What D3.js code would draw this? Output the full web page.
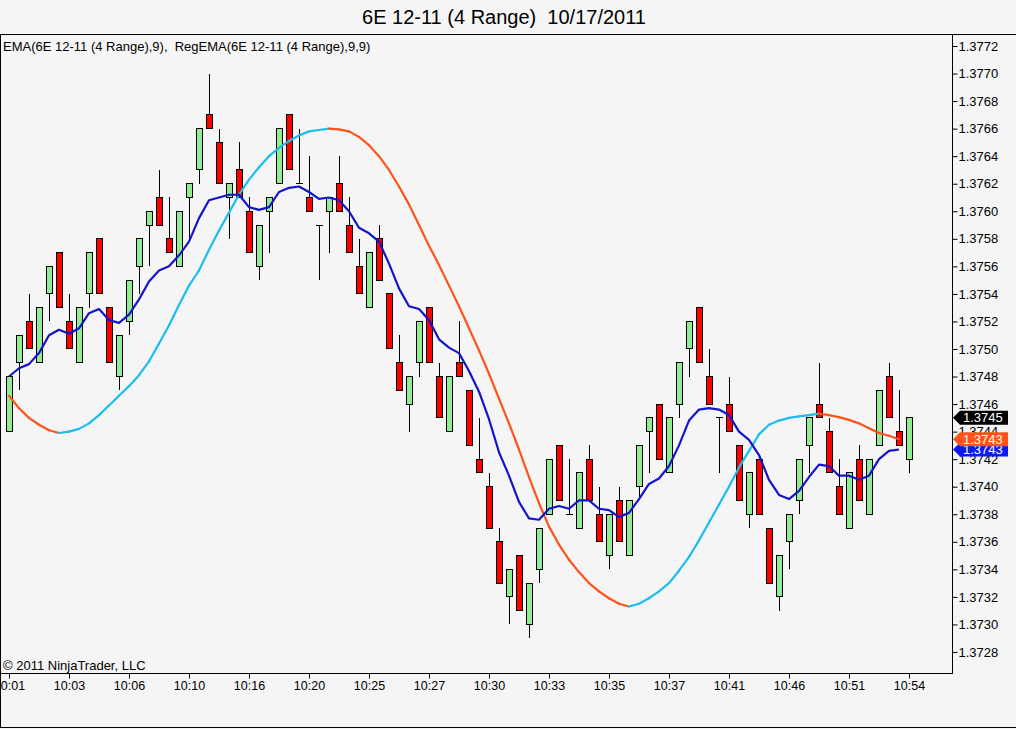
<!DOCTYPE html>
<html>
<head>
<meta charset="utf-8">
<script src="https://cdn.jsdelivr.net/npm/d3@7"></script>
<style>
    body { margin: 0; background: #f5f5f5; }
    svg { display: block; font-family: "Liberation Sans", Arial, sans-serif; }
</style>
</head>
<body>
<svg id="chart" width="1016" height="729"></svg>
<script>
const TITLE = "6E 12-11 (4 Range)  10/17/2011";
const LEGEND = "EMA(6E 12-11 (4 Range),9),  RegEMA(6E 12-11 (4 Range),9,9)";
const COPYRIGHT = "\u00A9 2011 NinjaTrader, LLC";

// x axis: one label every 6 bars
const labelBars = [0, 6, 12, 18, 24, 30, 36, 42, 48, 54, 60, 66, 72, 78, 84, 90];
const timeLabels = ["10:01", "10:03", "10:06", "10:10", "10:16", "10:20", "10:25", "10:27",
    "10:30", "10:33", "10:35", "10:37", "10:41", "10:46", "10:51", "10:54"];

const priceTicks = [1.3728, 1.3730, 1.3732, 1.3734, 1.3736, 1.3738, 1.3740, 1.3742, 1.3744,
    1.3746, 1.3748, 1.3750, 1.3752, 1.3754, 1.3756, 1.3758, 1.3760, 1.3762, 1.3764, 1.3766,
    1.3768, 1.3770, 1.3772];

// range bars
const opens = [
    1.3744, 1.3749, 1.3752, 1.3749, 1.3754, 1.3757, 1.3752, 1.3749, 1.3754, 1.3758,
    1.3753, 1.3748, 1.3752, 1.3756, 1.3759, 1.3761, 1.3758, 1.3756, 1.3761, 1.3763,
    1.3767, 1.3765, 1.3761, 1.3763, 1.3760, 1.3756, 1.3760, 1.3762, 1.3767, 1.3762,
    1.3761, 1.3759, 1.3760, 1.3762, 1.3759, 1.3756, 1.3753, 1.3758, 1.3754, 1.3749,
    1.3746, 1.3749, 1.3753, 1.3748, 1.3744, 1.3749, 1.3747, 1.3742, 1.3740, 1.3736,
    1.3732, 1.3735, 1.3730, 1.3734, 1.3738, 1.3743, 1.3738, 1.3737, 1.3742, 1.3738,
    1.3735, 1.3739, 1.3735, 1.3740, 1.3744, 1.3746, 1.3741, 1.3746, 1.3750, 1.3753,
    1.3748, 1.3745, 1.3746, 1.3743, 1.3738, 1.3742, 1.3737, 1.3732, 1.3736, 1.3739,
    1.3743, 1.3746, 1.3744, 1.3740, 1.3737, 1.3742, 1.3738, 1.3743, 1.3748, 1.3744,
    1.3742];
const highs = [
    1.3748, 1.3751, 1.3754, 1.3753, 1.3756, 1.3757, 1.3754, 1.3753, 1.3757, 1.3758,
    1.3753, 1.3751, 1.3755, 1.3758, 1.3760, 1.3763, 1.3761, 1.3760, 1.3762, 1.3766,
    1.3770, 1.3766, 1.3762, 1.3765, 1.3761, 1.3759, 1.3761, 1.3766, 1.3767, 1.3766,
    1.3764, 1.3759, 1.3761, 1.3764, 1.3761, 1.3758, 1.3757, 1.3759, 1.3754, 1.3751,
    1.3748, 1.3752, 1.3753, 1.3749, 1.3748, 1.3752, 1.3747, 1.3745, 1.3741, 1.3737,
    1.3734, 1.3735, 1.3733, 1.3737, 1.3742, 1.3743, 1.3742, 1.3741, 1.3743, 1.3740,
    1.3738, 1.3740, 1.3739, 1.3743, 1.3745, 1.3746, 1.3745, 1.3749, 1.3752, 1.3753,
    1.3750, 1.3745, 1.3748, 1.3743, 1.3741, 1.3742, 1.3737, 1.3735, 1.3738, 1.3742,
    1.3745, 1.3749, 1.3745, 1.3742, 1.3741, 1.3743, 1.3742, 1.3747, 1.3749, 1.3747,
    1.3745];
const lows = [
    1.3744, 1.3747, 1.3750, 1.3749, 1.3752, 1.3753, 1.3750, 1.3749, 1.3753, 1.3754,
    1.3749, 1.3747, 1.3751, 1.3754, 1.3756, 1.3759, 1.3757, 1.3756, 1.3758, 1.3762,
    1.3766, 1.3762, 1.3758, 1.3761, 1.3757, 1.3755, 1.3757, 1.3762, 1.3763, 1.3762,
    1.3760, 1.3755, 1.3757, 1.3760, 1.3757, 1.3754, 1.3753, 1.3755, 1.3750, 1.3747,
    1.3744, 1.3748, 1.3749, 1.3745, 1.3744, 1.3748, 1.3743, 1.3741, 1.3737, 1.3733,
    1.3730, 1.3731, 1.3729, 1.3733, 1.3738, 1.3739, 1.3738, 1.3737, 1.3739, 1.3736,
    1.3734, 1.3736, 1.3735, 1.3739, 1.3741, 1.3742, 1.3741, 1.3745, 1.3748, 1.3749,
    1.3746, 1.3741, 1.3744, 1.3739, 1.3737, 1.3738, 1.3733, 1.3731, 1.3734, 1.3738,
    1.3741, 1.3745, 1.3741, 1.3738, 1.3737, 1.3739, 1.3738, 1.3743, 1.3745, 1.3743,
    1.3741];
const closes = [
    1.3748, 1.3751, 1.3750, 1.3753, 1.3756, 1.3753, 1.3750, 1.3753, 1.3757, 1.3754,
    1.3749, 1.3751, 1.3755, 1.3758, 1.3760, 1.3759, 1.3757, 1.3760, 1.3762, 1.3766,
    1.3766, 1.3762, 1.3762, 1.3761, 1.3757, 1.3759, 1.3761, 1.3766, 1.3763, 1.3762,
    1.3760, 1.3759, 1.3761, 1.3760, 1.3757, 1.3754, 1.3757, 1.3755, 1.3750, 1.3747,
    1.3748, 1.3752, 1.3749, 1.3745, 1.3748, 1.3748, 1.3743, 1.3741, 1.3737, 1.3733,
    1.3734, 1.3731, 1.3733, 1.3737, 1.3742, 1.3739, 1.3738, 1.3741, 1.3739, 1.3736,
    1.3738, 1.3736, 1.3739, 1.3743, 1.3745, 1.3742, 1.3745, 1.3749, 1.3752, 1.3749,
    1.3746, 1.3745, 1.3744, 1.3739, 1.3741, 1.3738, 1.3733, 1.3735, 1.3738, 1.3742,
    1.3745, 1.3745, 1.3741, 1.3738, 1.3741, 1.3739, 1.3742, 1.3747, 1.3745, 1.3743,
    1.3745];

// EMA(9), blue line (not plotted on the last, unfinished bar)
const emaValues = [
    1.37480, 1.37486, 1.37489, 1.37497, 1.37510, 1.37514, 1.37511, 1.37515, 1.37526, 1.37529,
    1.37521, 1.37519, 1.37525, 1.37536, 1.37549, 1.37557, 1.37560, 1.37568, 1.37578, 1.37595,
    1.37608, 1.37610, 1.37612, 1.37612, 1.37603, 1.37601, 1.37603, 1.37614, 1.37617, 1.37618,
    1.37614, 1.37609, 1.37610, 1.37608, 1.37600, 1.37588, 1.37584, 1.37578, 1.37562, 1.37544,
    1.37531, 1.37529, 1.37521, 1.37507, 1.37501, 1.37497, 1.37484, 1.37469, 1.37449, 1.37425,
    1.37408, 1.37389, 1.37377, 1.37376, 1.37384, 1.37386, 1.37384, 1.37390, 1.37390, 1.37384,
    1.37383, 1.37378, 1.37381, 1.37391, 1.37402, 1.37406, 1.37415, 1.37430, 1.37448, 1.37456,
    1.37457, 1.37456, 1.37452, 1.37440, 1.37434, 1.37423, 1.37405, 1.37394, 1.37391, 1.37397,
    1.37407, 1.37416, 1.37415, 1.37408, 1.37408, 1.37405, 1.37408, 1.37420, 1.37426, 1.37427];

// RegEMA(9,9), cyan when rising, orange when falling
const regEmaValues = [
    1.37466, 1.37457, 1.37450, 1.37445, 1.37441, 1.37439, 1.37440, 1.37442, 1.37446, 1.37452,
    1.37459, 1.37466, 1.37473, 1.37481, 1.37491, 1.37504, 1.37517, 1.37532, 1.37546, 1.37557,
    1.37572, 1.37586, 1.37599, 1.37612, 1.37623, 1.37632, 1.37640, 1.37646, 1.37651, 1.37655,
    1.37658, 1.37659, 1.37660, 1.376595, 1.37658, 1.37654, 1.37648, 1.37640, 1.37630, 1.37618,
    1.37605, 1.37590, 1.37575, 1.37561, 1.37546, 1.37531, 1.37515, 1.37499, 1.37482, 1.37464,
    1.37446, 1.37427, 1.37407, 1.37388, 1.37371, 1.37358, 1.37347, 1.37338, 1.37330, 1.37324,
    1.37319, 1.37315, 1.37313, 1.37315, 1.37319, 1.37324, 1.37330, 1.37339, 1.37349, 1.37361,
    1.37374, 1.37387, 1.37400, 1.37414, 1.37426, 1.37438, 1.37445, 1.37448, 1.37450, 1.37451,
    1.37452, 1.37453, 1.37452, 1.374505, 1.374485, 1.37446, 1.374425, 1.37439, 1.37437, 1.374345];

const COLORS = {
    up: "#90ee90",
    down: "#ff0000",
    ema: "#1414cc",
    emaTag: "#0a1af5",
    rising: "#1ebdf0",
    falling: "#ff531a"
};

class RangeChart {
    constructor(selector = '#chart') {
        this.svg = d3.select(selector);
        this.width = +this.svg.attr('width');
        this.height = +this.svg.attr('height');
        this.plot = { left: 0, top: 35, right: 952, bottom: 673 };
        this.x = d3.scaleLinear().domain([0, 90]).range([9, 909]);
        this.y = d3.scaleLinear().domain([1.3740, 1.3772]).range([486.7, 46]);
    }

    draw() {
        this.svg.selectAll("*").remove();

        this.svg.append("defs").append("clipPath")
            .attr("id", "plot-clip")
            .append("rect")
            .attr("x", this.plot.left)
            .attr("y", this.plot.top)
            .attr("width", this.plot.right - this.plot.left)
            .attr("height", this.plot.bottom - this.plot.top);

        this.drawText();
        this.drawAxes();
        this.drawCandles();
        this.drawIndicators();
        this.drawFrame();
        this.drawPriceTags();
    }

    drawText() {
        this.svg.append("text")
            .attr("x", 504)
            .attr("y", 24)
            .attr("text-anchor", "middle")
            .style("font-size", "20px")
            .style("white-space", "pre")
            .text(TITLE);

        this.svg.append("text")
            .attr("x", 3)
            .attr("y", 51)
            .style("font-size", "13px")
            .style("white-space", "pre")
            .text(LEGEND);

        this.svg.append("text")
            .attr("x", 3)
            .attr("y", 670)
            .style("font-size", "13px")
            .text(COPYRIGHT);
    }

    drawAxes() {
        const yAxis = d3.axisRight(this.y)
            .tickValues(priceTicks)
            .tickFormat(d3.format(".4f"))
            .tickSize(5)
            .tickPadding(1);

        const yg = this.svg.append("g")
            .attr("class", "y-axis")
            .attr("transform", `translate(${this.plot.right + 0.5},0)`)
            .call(yAxis);

        const xAxis = d3.axisBottom(this.x)
            .tickValues(labelBars)
            .tickFormat((d, i) => timeLabels[i])
            .tickSize(5)
            .tickPadding(3);

        const xg = this.svg.append("g")
            .attr("class", "x-axis")
            .attr("transform", `translate(0,${this.plot.bottom + 0.5})`)
            .call(xAxis);

        [yg, xg].forEach(g => {
            g.select(".domain").remove();
            g.selectAll(".tick line").attr("stroke", "#000");
            g.selectAll(".tick text")
                .attr("fill", "#000")
                .style("font-family", "'Liberation Sans', Arial, sans-serif");
        });
        yg.selectAll(".tick text").style("font-size", "13px");
        xg.selectAll(".tick text").style("font-size", "12.5px");
    }

    drawCandles() {
        const g = this.svg.append("g")
            .attr("clip-path", "url(#plot-clip)")
            .attr("shape-rendering", "crispEdges");

        opens.forEach((open, i) => {
            const cx = Math.round(this.x(i)) + 0.5;
            const close = closes[i];
            const yTop = this.y(Math.max(open, close));
            const yBot = this.y(Math.min(open, close));

            // Wick
            g.append("line")
                .attr("x1", cx).attr("x2", cx)
                .attr("y1", this.y(highs[i]))
                .attr("y2", this.y(lows[i]))
                .attr("stroke", "#000");

            if (Math.abs(open - close) < 1e-7) {
                // Doji: flat tick
                g.append("line")
                    .attr("x1", cx - 4).attr("x2", cx + 3)
                    .attr("y1", yTop).attr("y2", yTop)
                    .attr("stroke", "#000");
                return;
            }

            g.append("rect")
                .attr("x", cx - 3.5)
                .attr("y", yTop)
                .attr("width", 6)
                .attr("height", yBot - yTop)
                .attr("fill", close > open ? COLORS.up : COLORS.down)
                .attr("stroke", "#000");
        });
    }

    drawIndicators() {
        const g = this.svg.append("g").attr("clip-path", "url(#plot-clip)");

        // Regression EMA, colored by slope
        regEmaValues.forEach((v, i) => {
            if (i === 0) return;
            const prev = regEmaValues[i - 1];
            g.append("line")
                .attr("x1", this.x(i - 1)).attr("y1", this.y(prev))
                .attr("x2", this.x(i)).attr("y2", this.y(v))
                .attr("stroke", v >= prev ? COLORS.rising : COLORS.falling)
                .attr("stroke-width", 2.2)
                .attr("stroke-linecap", "round");
        });

        // EMA
        const line = d3.line()
            .x((d, i) => this.x(i))
            .y(d => this.y(d));

        g.append("path")
            .datum(emaValues)
            .attr("d", line)
            .attr("fill", "none")
            .attr("stroke", COLORS.ema)
            .attr("stroke-width", 2.2)
            .attr("stroke-linejoin", "round");
    }

    drawFrame() {
        const p = this.plot;
        const g = this.svg.append("g")
            .attr("stroke", "#000")
            .attr("shape-rendering", "crispEdges");

        g.append("line").attr("x1", 0).attr("x2", this.width)
            .attr("y1", p.top - 0.5).attr("y2", p.top - 0.5);
        g.append("line").attr("x1", p.right + 0.5).attr("x2", p.right + 0.5)
            .attr("y1", p.top).attr("y2", p.bottom + 0.5);
        g.append("line").attr("x1", 0).attr("x2", p.right + 0.5)
            .attr("y1", p.bottom + 0.5).attr("y2", p.bottom + 0.5);
        g.append("line").attr("x1", 0.5).attr("x2", 0.5)
            .attr("y1", p.top).attr("y2", this.height - 1);
        g.append("line").attr("x1", 0).attr("x2", this.width)
            .attr("y1", this.height - 1.5).attr("y2", this.height - 1.5);
    }

    drawPriceTags() {
        const last = emaValues.length - 1;
        this.addTag(emaValues[last], COLORS.emaTag);
        this.addTag(regEmaValues[last], COLORS.falling);
        this.addTag(closes[closes.length - 1], "#000");
    }

    addTag(value, color) {
        const yc = this.y(value);
        const x0 = this.plot.right + 1;
        const h = 7;
        const tag = this.svg.append("g");

        tag.append("path")
            .attr("d", `M${x0},${yc} L${x0 + 7},${yc - h} L${x0 + 55},${yc - h} ` +
                `L${x0 + 55},${yc + h} L${x0 + 7},${yc + h} Z`)
            .attr("fill", color);

        tag.append("text")
            .attr("x", x0 + 10)
            .attr("y", yc + 4.5)
            .attr("fill", "#fff")
            .style("font-size", "13px")
            .text(d3.format(".4f")(value));
    }
}

const chart = new RangeChart();
chart.draw();
</script>
</body>
</html>
